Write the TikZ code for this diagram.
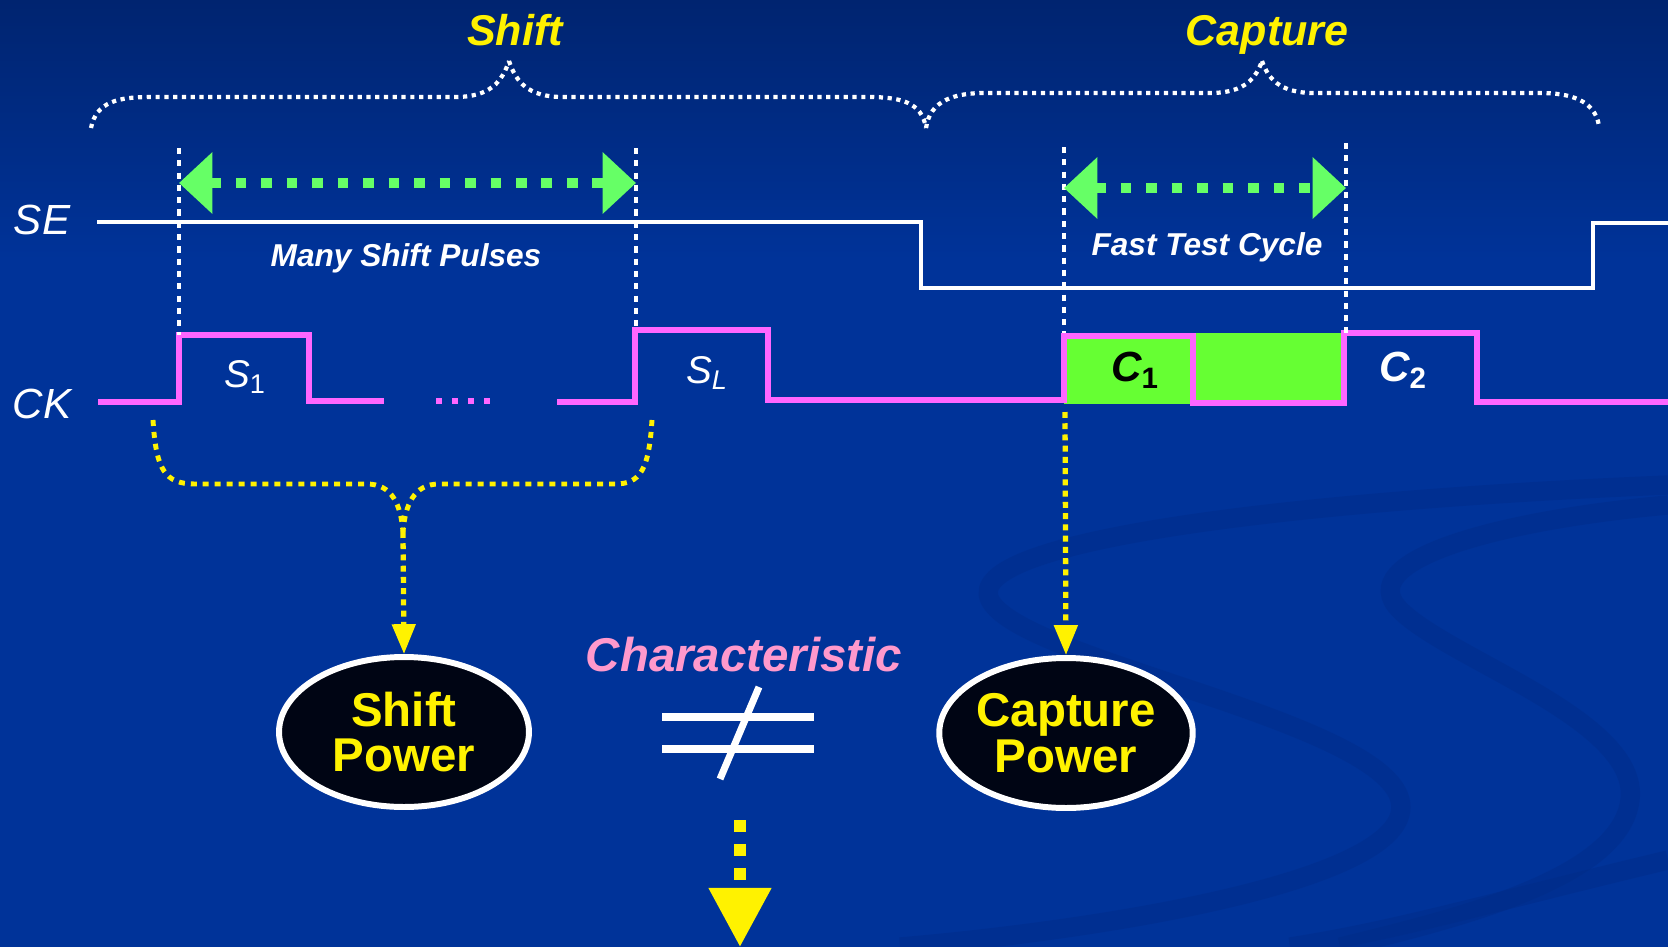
\documentclass[tikz,border=0pt]{standalone}
\usepackage{fontspec}
\setmainfont{Liberation Sans}
\usetikzlibrary{arrows.meta,shapes.geometric}

\definecolor{bgblue}{RGB}{0,51,153}
\definecolor{bgtop}{RGB}{0,36,112}
\definecolor{swirlblue}{RGB}{0,44,136}
\definecolor{ckpink}{RGB}{255,102,255}
\definecolor{capgreen}{RGB}{102,255,51}
\definecolor{arrgreen}{RGB}{102,255,102}
\definecolor{charpink}{RGB}{255,153,204}
\definecolor{pwrblack}{RGB}{0,5,20}

\begin{document}
\begin{tikzpicture}[x=0.02cm,y=-0.02cm,
  title/.style={text=yellow,font=\bfseries\itshape\fontsize{24.5}{26}\selectfont,inner sep=0pt,anchor=base},
  sig/.style={text=white,font=\itshape\fontsize{24}{26}\selectfont,inner sep=0pt},
  note/.style={text=white,font=\bfseries\itshape\fontsize{18}{20}\selectfont,inner sep=0pt,anchor=base},
  pulse/.style={text=white,font=\itshape\fontsize{22}{24}\selectfont,inner sep=0pt},
  cpulse/.style={font=\bfseries\itshape\fontsize{24}{26}\selectfont,inner sep=0pt},
  brace/.style={white,line width=2.4pt,dash pattern=on 2.4pt off 2.6pt},
  ybrace/.style={yellow,line width=2.8pt,dash pattern=on 3.4pt off 3.4pt},
  vline/.style={white,line width=2.2pt,dash pattern=on 3.5pt off 3.5pt},
  spanarrow/.style={arrgreen,line width=6pt,dash pattern=on 6pt off 8.5pt,
    {Triangle[width=34pt,length=19pt]}-{Triangle[width=34pt,length=19pt]}},
  ywire/.style={yellow,line width=3pt,dash pattern=on 3.4pt off 3pt,
    -{Triangle[width=13pt,length=17pt]}},
  bigarrow/.style={yellow,line width=6.8pt,dash pattern=on 6.8pt off 6.8pt,
    -{Triangle[width=34pt,length=33.6pt]}},
  sewave/.style={white,line width=2.5pt},
  ckwave/.style={ckpink,line width=3.6pt},
  neqbar/.style={white,line width=4pt},
  swirl/.style={swirlblue,line width=11pt,opacity=0.45},
  power/.style={ellipse,draw=white,line width=3.4pt,fill=pwrblack,text=yellow,
    font=\bfseries\fontsize{27}{26}\selectfont,align=center,
    minimum width=5cm,minimum height=3cm,inner sep=0pt}]

% background
\useasboundingbox (0,0) rectangle (1668,947);
\fill[bgblue] (0,0) rectangle (1668,947);
\shade[top color=bgtop,bottom color=bgblue] (0,0) rectangle (1668,260);
\draw[swirl] (1668,485) .. controls (1300,500) and (960,540) .. (990,600)
  .. controls (1020,660) and (1380,720) .. (1400,800)
  .. controls (1420,880) and (1100,930) .. (900,947);
\draw[swirl] (1668,505) .. controls (1500,520) and (1350,560) .. (1400,610)
  .. controls (1450,660) and (1640,720) .. (1630,800)
  .. controls (1620,880) and (1450,920) .. (1340,947);
\draw[swirl] (1668,860) .. controls (1500,900) and (1400,930) .. (1290,947);

% titles and braces
\node[title] (shiftT) at (515,45) {Shift};
\node[title] (captT) at (1267,45) {Capture};
\draw[brace] (91,128) .. controls (96,102) and (118,97) .. (150,97) -- (455,97)
  .. controls (490,97) and (502,82) .. (509,61);
\draw[brace] (509,61) .. controls (516,82) and (528,97) .. (563,97) -- (868,97)
  .. controls (900,97) and (922,102) .. (926,128);
\draw[brace] (926,128) .. controls (930,100) and (955,93) .. (985,93) -- (1210,93)
  .. controls (1245,93) and (1256,78) .. (1262,61);
\draw[brace] (1262,61) .. controls (1268,78) and (1279,93) .. (1314,93) -- (1540,93)
  .. controls (1570,93) and (1595,100) .. (1599,126);

% signals
\node[sig] (se) at (42,220) {SE};
\node[sig] (ck) at (42,404) {CK};
\fill[capgreen] (1064,333) rectangle (1346,404);
\draw[sewave] (97,222) -- (921,222) -- (921,288) -- (1593,288) -- (1593,223) -- (1668,223);
\draw[ckwave] (98,402) -- (179,402) -- (179,335) -- (309,335) -- (309,401) -- (384,401);
\draw[ckwave,dash pattern=on 3.4pt off 5.7pt] (436,401) -- (494,401);
\draw[ckwave] (557,402) -- (635,402) -- (635,330) -- (768,330) -- (768,400) -- (1064,400)
  -- (1064,336) -- (1193,336) -- (1193,403) -- (1344,403) -- (1344,333) -- (1477,333)
  -- (1477,402) -- (1668,402);
\node[pulse] (s1) at (245,377) {S\textsubscript{\upshape 1}};
\node[pulse] (sL) at (707,373) {S\textsubscript{L}};
\node[cpulse,text=black] (c1) at (1135,370) {C\textsubscript{\upshape 1}};
\node[cpulse,text=white] (c2) at (1403,370) {C\textsubscript{\upshape 2}};

% shift window
\coordinate (shA) at (179,148);
\coordinate (shB) at (636,148);
\coordinate (shL) at (179,183);
\coordinate (shR) at (636,183);
\draw[vline] (shA) -- (179,335);
\draw[vline] (shB) -- (636,330);
\draw[spanarrow] (shL) -- (shR);
\node[note] (many) at (406,266) {Many Shift Pulses};

% capture window
\coordinate (caA) at (1064,147);
\coordinate (caB) at (1346,143);
\coordinate (caL) at (1064,188);
\coordinate (caR) at (1346,188);
\draw[vline] (caA) -- (1064,333);
\draw[vline] (caB) -- (1346,333);
\draw[spanarrow] (caL) -- (caR);
\node[note] (fast) at (1207,255) {Fast Test Cycle};

% power
\node[power] (shp) at (404,732) {Shift\\Power};
\node[power] (cpp) at (1066,733) {Capture\\Power};
\draw[ybrace] (153,420) .. controls (156,470) and (165,484) .. (195,484) -- (367,484)
  .. controls (392,484) and (401,505) .. (403,532);
\draw[ybrace] (652,420) .. controls (649,470) and (640,484) .. (615,484) -- (439,484)
  .. controls (414,484) and (405,505) .. (403,532);
\coordinate (ytip) at (403,532);
\draw[ywire] (ytip) -- (shp.north);
\coordinate (c1foot) at (1065,412);
\draw[ywire] (c1foot) -- (cpp.north);

% characteristic
\node[text=charpink,font=\bfseries\itshape\fontsize{27}{28}\selectfont,inner sep=0pt]
  (chr) at (744,655) {Characteristic};
\draw[neqbar] (662,717) -- (814,717);
\draw[neqbar] (662,749) -- (814,749);
\draw[neqbar] (759,687) -- (720,779);
\coordinate (neqfoot) at (740,820);
\coordinate (bottom) at (740,947);
\draw[bigarrow] (neqfoot) -- (bottom);
\end{tikzpicture}
\end{document}
